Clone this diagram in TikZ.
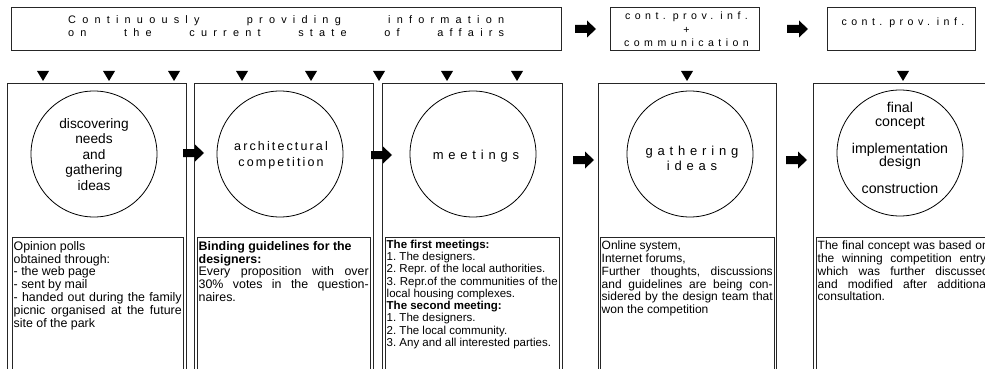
\documentclass[tikz,border=0pt]{standalone}
\usepackage{fontspec}
\setmainfont{Liberation Sans}
\newfontfamily\lsTop[LetterSpace=57]{Liberation Sans}
\newfontfamily\lsSmall[LetterSpace=42]{Liberation Sans}
\newfontfamily\lsArch[LetterSpace=17]{Liberation Sans}
\newfontfamily\lsMeet[LetterSpace=37]{Liberation Sans}
\newcommand{\wsp}{\hspace{7pt}}
\tikzset{
  frame/.style={draw=black!85, line width=0.9pt, fill=white, inner sep=0pt, outer sep=0pt},
  panel/.style={frame, anchor=north west, minimum height=320pt},
  textbox/.style={frame, anchor=north west, minimum height=160pt},
  topbox/.style={frame, anchor=north west, minimum height=43pt},
  ring/.style={circle, draw=black, line width=0.8pt, minimum size=126pt, inner sep=0pt},
  ctext/.style={align=center, inner sep=0pt},
  body/.style={anchor=north west, inner xsep=1.5pt, inner ysep=0pt, align=justify},
  bodyA/.style={body, font=\fontsize{12.4}{12.9}\selectfont\frenchspacing},
  bodyB/.style={body, font=\fontsize{11.5}{12.3}\selectfont\frenchspacing},
  bodyC/.style={body, font=\fontsize{12}{12.9}\selectfont\frenchspacing},
  downtri/.pic={\fill[black] (-6,-10) -- (6,-10) -- (0,0) -- cycle;},
  barrow/.pic={\fill[black] (0,-4) -- (12,-4) -- (12,-8.5) -- (21,0) -- (12,8.5) -- (12,4) -- (0,4) -- cycle;},
}
\begin{document}
\begin{tikzpicture}[x=1pt,y=-1pt]
\useasboundingbox (0,0) rectangle (985,369);
\clip (0,0) rectangle (985,369);

% ---------- top row ----------
\node[topbox, minimum width=550pt] (top1) at (11,7) {};
\node[anchor=base west, inner sep=0pt, font=\lsTop\fontsize{10.9}{13}\selectfont] (top1a) at (68,23.5)
  {\makebox[436pt][s]{Continuously providing information}};
\node[anchor=base west, inner sep=0pt, font=\lsTop\fontsize{10.9}{13}\selectfont] (top1b) at (68,37)
  {\makebox[436pt][s]{on the current state of affairs}};

\node[topbox, minimum width=149pt] (top2) at (610,7) {};
\node[ctext, font=\lsSmall\fontsize{10.6}{13.6}\selectfont] (top2t) at (686.5,29.5)
  {cont.\wsp prov.\wsp inf.\\+\\communication};

\node[topbox, minimum width=148pt] (top3) at (827,7) {};
\node[anchor=base, inner sep=0pt, font=\lsSmall\fontsize{10.6}{13}\selectfont] (top3t) at (903,26)
  {cont.\wsp prov.\wsp inf.};

\coordinate (ta1) at (575,29);
\coordinate (ta2) at (787,29);
\pic at (ta1) {barrow};
\pic at (ta2) {barrow};

% ---------- triangles ----------
\foreach \x in {43,109,174,242,311,379,447,517,687,903}
  \pic at (\x,81) {downtri};

% ---------- panels ----------
\node[panel, minimum width=179pt] (p1) at (7,83) {};
\node[panel, minimum width=179pt] (p2) at (194,83) {};
\node[panel, minimum width=180pt] (p3) at (382,83) {};
\node[panel, minimum width=178pt] (p4) at (598,83) {};
\node[panel, minimum width=179pt] (p5) at (813,83) {};

\node[textbox, minimum width=171pt] (i1) at (12,237) {};
\node[textbox, minimum width=173pt] (i2) at (197,237) {};
\node[textbox, minimum width=174pt] (i3) at (385,237) {};
\node[textbox, minimum width=174pt] (i4) at (600,237) {};
\node[textbox, minimum width=174pt] (i5) at (816,237) {};

% ---------- circles ----------
\node[ring] (c1) at (94,154) {};
\node[ring] (c2) at (280,154) {};
\node[ring] (c3) at (473,154) {};
\node[ring] (c4) at (690,154) {};
\node[ring] (c5) at (900,153) {};

\node[ctext, font=\fontsize{13.7}{15.5}\selectfont] (c1t) at (94,154.5)
  {discovering\\needs\\and\\gathering\\ideas};
\node[ctext, font=\lsArch\fontsize{12.5}{16}\selectfont] (c2t) at (281,155.3)
  {architectural\\competition};
\node[ctext, font=\lsMeet\fontsize{13}{15}\selectfont] (c3t) at (476,156)
  {meetings};
\node[ctext, font=\lsMeet\fontsize{13}{15}\selectfont] (c4t) at (692,158)
  {gathering\\ideas};
\node[ctext, font=\fontsize{14.2}{13.5}\selectfont] (c5t) at (900,148)
  {final\\concept\\[13.5pt]implementation\\design\\[13.5pt]construction};

% ---------- arrows between panels ----------
\coordinate (pa1) at (183,153);
\coordinate (pa2) at (371,155);
\coordinate (pa3) at (573,160);
\coordinate (pa4) at (786,160);
\pic at (pa1) {barrow};
\pic at (pa2) {barrow};
\pic at (pa3) {barrow};
\pic at (pa4) {barrow};

% ---------- texts ----------
\node[bodyA, text width=168pt] (t1) at (12,241) {%
Opinion polls\newline
obtained through:\newline
- the web page\newline
- sent by mail\newline
- handed out during the family\linebreak
picnic organised at the future\linebreak
site of the park};

\node[bodyA, text width=170pt] (t2) at (197,241) {%
\textbf{Binding guidelines for the}\newline
\textbf{designers:}\newline
Every proposition with over\linebreak
30\% votes in the question-\linebreak
naires.};

\node[bodyB, text width=171pt] (t3) at (385,239.6) {%
\textbf{The first meetings:}\newline
1. The designers.\newline
2. Repr. of the local authorities.\newline
3. Repr.of the communities of the\linebreak
local housing complexes.\newline
\textbf{The second meeting:}\newline
1. The designers.\newline
2. The local community.\newline
3. Any and all interested parties.};

\node[bodyC, text width=171pt] (t4) at (600,240.5) {%
Online system,\newline
Internet forums,\newline
Further thoughts, discussions\linebreak
and guidelines are being con-\linebreak
sidered by the design team that\linebreak
won the competition};

\node[bodyC, text width=171pt] (t5) at (816,240.5) {%
The final concept was based on\linebreak
the winning competition entry,\linebreak
which was further discussed\linebreak
and modified after additional\linebreak
consultation.};
\end{tikzpicture}
\end{document}
